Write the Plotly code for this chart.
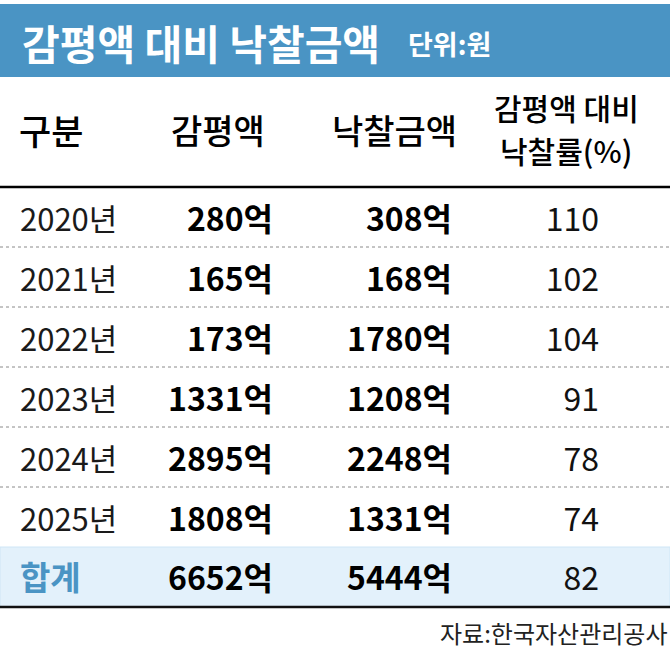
import plotly.graph_objects as go

# 데이터 (단위: 억원)
years = ['2020년', '2021년', '2022년', '2023년', '2024년', '2025년']
appraisal = [280, 165, 173, 1331, 2895, 1808]
winning = [308, 168, 1780, 1208, 2248, 1331]
rate = [110, 102, 104, 91, 78, 74]

total_label = '합계'
total_appraisal = 6652
total_winning = 5444
total_rate = 82

title = '감평액 대비 낙찰금액'
unit = '단위:원'
headers = ['구분', '감평액', '낙찰금액']
rate_header = ['감평액 대비', '낙찰률(%)']
source = '자료:한국자산관리공사'

# 레이아웃 상수 (픽셀)
W, H = 670, 653
BLUE = '#4a94c4'
BAND = '#e3f1fb'
FONT = 'Noto Sans CJK KR'
ROW_TOP = 187
ROW_H = 60
COL_YEAR = 20      # 왼쪽 정렬
COL_APP = 273      # 오른쪽 정렬
COL_WIN = 452
COL_RATE = 599

n = len(years)
row_y = [ROW_TOP + ROW_H * (i + 0.5) + 6 for i in range(n)]
total_y = ROW_TOP + ROW_H * (n + 0.5) + 5

fig = go.Figure()

# 연도 열
fig.add_trace(go.Scatter(
    x=[COL_YEAR] * n, y=row_y, mode='text', text=years,
    textposition='middle right',
    textfont=dict(family=FONT, size=31, color='#1a1a1a'),
    hoverinfo='skip'
))

# 감평액 / 낙찰금액 열
for col_x, vals, tot in [(COL_APP, appraisal, total_appraisal),
                         (COL_WIN, winning, total_winning)]:
    fig.add_trace(go.Scatter(
        x=[col_x] * (n + 1), y=row_y + [total_y], mode='text',
        text=[f'{v}억' for v in vals] + [f'{tot}억'],
        textposition='middle left',
        textfont=dict(family=FONT, size=32, color='#000000', weight='bold'),
        hoverinfo='skip'
    ))

# 낙찰률 열
fig.add_trace(go.Scatter(
    x=[COL_RATE] * (n + 1), y=row_y + [total_y], mode='text',
    text=[str(v) for v in rate] + [str(total_rate)],
    textposition='middle left',
    textfont=dict(family=FONT, size=32, color='#111111'),
    hoverinfo='skip'
))

# 합계 라벨
fig.add_trace(go.Scatter(
    x=[COL_YEAR], y=[total_y], mode='text', text=[total_label],
    textposition='middle right',
    textfont=dict(family=FONT, size=33, color=BLUE, weight='bold'),
    hoverinfo='skip'
))

shapes = [
    # 제목 배너
    dict(type='rect', x0=0, x1=W, y0=4, y1=77, fillcolor=BLUE, line_width=0, layer='below'),
    # 합계 배경
    dict(type='rect', x0=0, x1=W, y0=ROW_TOP + ROW_H * n, y1=ROW_TOP + ROW_H * (n + 1),
         fillcolor=BAND, line=dict(color='#cfe6f6', width=1), layer='below'),
    # 헤더 아래 굵은 선
    dict(type='line', x0=0, x1=W, y0=ROW_TOP, y1=ROW_TOP, line=dict(color='#000000', width=2.5)),
    # 하단 굵은 선
    dict(type='line', x0=0, x1=W, y0=ROW_TOP + ROW_H * (n + 1), y1=ROW_TOP + ROW_H * (n + 1),
         line=dict(color='#111111', width=2.5)),
]
for i in range(1, n):
    yy = ROW_TOP + ROW_H * i
    shapes.append(dict(type='line', x0=0, x1=W, y0=yy, y1=yy,
                       line=dict(color='#8a8a8a', width=1, dash='3px,3px')))

hdr_font = dict(family=FONT, size=34, color='#000000', weight=500)
annotations = [
    dict(x=20, y=42, text=f'<b>{title}</b>', xanchor='left', yanchor='middle',
         font=dict(family=FONT, size=41, color='white')),
    dict(x=406, y=43, text=f'<b>{unit}</b>', xanchor='left', yanchor='middle',
         font=dict(family=FONT, size=27, color='white')),
    dict(x=17, y=129, text=headers[0], xanchor='left', yanchor='middle',
         font=dict(hdr_font, size=35)),
    dict(x=218, y=129, text=headers[1], xanchor='center', yanchor='middle', font=hdr_font),
    dict(x=394, y=129, text=headers[2], xanchor='center', yanchor='middle', font=hdr_font),
    dict(x=566, y=107, text=rate_header[0], xanchor='center', yanchor='middle',
         font=dict(hdr_font, size=30)),
    dict(x=566, y=150, text=rate_header[1], xanchor='center', yanchor='middle',
         font=dict(hdr_font, size=30)),
    dict(x=669, y=632, text=source, xanchor='right', yanchor='middle',
         font=dict(family=FONT, size=24, color='#222222')),
]
for a in annotations:
    a['showarrow'] = False

fig.update_layout(
    width=W, height=H,
    margin=dict(l=0, r=0, t=0, b=0),
    paper_bgcolor='white', plot_bgcolor='white',
    showlegend=False,
    xaxis=dict(range=[0, W], visible=False, fixedrange=True),
    yaxis=dict(range=[H, 0], visible=False, fixedrange=True),
    shapes=shapes,
    annotations=annotations,
)

# 브라우저 기본 body 여백 제거
fig.write_html("out.html", config={'displayModeBar': False},
               post_script="document.body.style.margin='0';")
